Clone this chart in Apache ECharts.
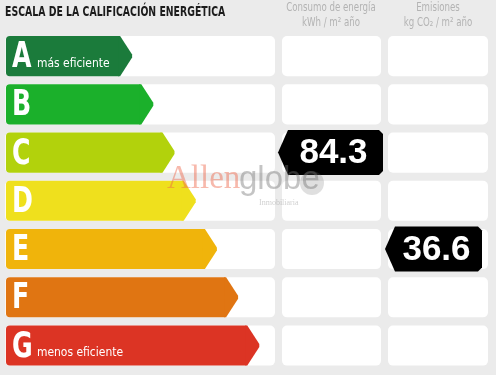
<!DOCTYPE html>
<html><head><meta charset="utf-8">
<script src="https://cdn.jsdelivr.net/npm/echarts@6/dist/echarts.min.js"></script>
<style>html,body{margin:0;padding:0;background:#ebebeb}#c{width:496px;height:375px}</style>
</head><body><div id="c"></div>
<script>
// ---- data ----
const classes = ['A', 'B', 'C', 'D', 'E', 'F', 'G'];
const classLength = [1, 2, 3, 4, 5, 6, 7];
const classColors = ['#1b7b3b', '#1bb02b', '#b2d20c', '#efe01d', '#f0b40b', '#e07512', '#dc3424'];
const classNotes = ['más eficiente', '', '', '', '', '', 'menos eficiente'];
const consumptionClass = ['C'];
const consumptionValue = [84.3];
const emissionsClass = ['E'];
const emissionsValue = [36.6];
const headerTitle = 'ESCALA DE LA CALIFICACIÓN ENERGÉTICA';
const consumptionHeader = ['Consumo de energía', 'kWh / m² año'];
const emissionsHeader = ['Emisiones', 'kg CO₂ / m² año'];

// ---- layout ----
const NARROW = '"Liberation Sans Narrow", "DejaVu Sans Condensed", sans-serif';
const BAR_ORIGIN = -5;
const col1 = [5, 275], col2 = [282, 381], col3 = [388, 488];
const badge2 = [278, 383], badge3 = [385, 482];

const chart = echarts.init(document.getElementById('c'), null, {renderer: 'canvas'});

function renderCells(params, api) {
  const cy = api.coord([0, api.value(1)])[1];
  const h = api.size([0, 1])[1] * 0.83;
  const mk = c => ({type: 'rect', shape: {x: c[0], y: cy - h / 2, width: c[1] - c[0], height: h, r: 5},
    style: {fill: '#ffffff'}});
  return {type: 'group', children: [mk(col1), mk(col2), mk(col3)]};
}

function renderBars(params, api) {
  const idx = params.dataIndex;
  const p0 = api.coord([BAR_ORIGIN, api.value(1)]);
  const p1 = api.coord([api.value(0), api.value(1)]);
  const h = api.size([0, 1])[1] * 0.83;
  const top = p0[1] - h / 2, bot = p0[1] + h / 2, cy = p0[1];
  const tip = p1[0], bodyEnd = tip - 15;
  const fill = classColors[idx];
  const children = [
    {type: 'rect', shape: {x: p0[0], y: top, width: bodyEnd - p0[0] + 1, height: h, r: [4, 0, 0, 4]}, style: {fill}},
    {type: 'polygon', shape: {points: [[bodyEnd, top], [bodyEnd + 2, top], [tip - 1, cy - 1.5], [tip - 1, cy + 1.5], [bodyEnd + 2, bot], [bodyEnd, bot]]}, style: {fill}},
    {type: 'text', x: p0[0] + 6, y: cy + 2, scaleX: 0.8,
      style: {text: classes[idx], fill: '#fff', fontSize: 35, fontWeight: 'bold', fontFamily: NARROW, align: 'left', verticalAlign: 'middle'}}
  ];
  if (classNotes[idx]) {
    children.push({type: 'text', x: p0[0] + 31, y: cy + 14, scaleX: 0.92,
      style: {text: classNotes[idx], fill: '#fff', fontSize: 13, fontFamily: NARROW, align: 'left', verticalAlign: 'bottom'}});
  }
  return {type: 'group', children};
}

function badgeRenderer(range) {
  return function (params, api) {
    const cy = api.coord([0, api.value(1)])[1];
    const hh = 22.5;
    const x0 = range[0], x1 = range[1];
    const top = cy - hh, bot = cy + hh;
    return {type: 'group', children: [
      {type: 'polygon', shape: {points: [[x0, cy], [x0 + 10, top], [x1 - 4, top], [x1, top + 4], [x1, bot - 4], [x1 - 4, bot], [x0 + 10, bot]]},
        style: {fill: '#000'}},
      {type: 'text', x: (x0 + x1) / 2 + 3, y: cy + 1,
        style: {text: api.value(0).toFixed(1), fill: '#fff', fontSize: 35, fontWeight: 'bold',
          fontFamily: '"Liberation Sans", Arial, sans-serif', align: 'center', verticalAlign: 'middle'}}
    ]};
  };
}

const hdr = (txt, x, y) => ({type: 'text', x, y, scaleX: 0.8,
  style: {text: txt, fill: '#b3b3b3', fontSize: 12, fontFamily: NARROW, align: 'center', verticalAlign: 'middle'}});

const option = {
  backgroundColor: '#ebebeb',
  animation: false,
  grid: {left: 0, right: 0, top: 32, height: 337.7},
  xAxis: {type: 'value', min: -5.28, max: 18.12, show: false},
  yAxis: {type: 'category', data: classes, inverse: true, show: false},
  graphic: [
    {type: 'text', x: 5, y: 12, scaleX: 0.77, style: {text: headerTitle, fill: '#1c1c1c', fontSize: 13.5, fontWeight: 'bold', fontFamily: NARROW, verticalAlign: 'middle'}},
    hdr(consumptionHeader[0], 331, 8),
    hdr(consumptionHeader[1], 331, 23),
    hdr(emissionsHeader[0], 438, 8),
    hdr(emissionsHeader[1], 438, 23),
    // watermark
    {type: 'circle', z: 100, shape: {cx: 312, cy: 183, r: 12}, style: {fill: 'rgba(110,110,110,0.22)'}},
    {type: 'text', z: 101, x: 167, y: 196, style: {text: 'Allen', fill: 'rgba(238,100,72,0.45)', fontSize: 33, fontFamily: '"Liberation Serif", serif', verticalAlign: 'bottom'}},
    {type: 'text', z: 101, x: 239, y: 196, style: {text: 'globe', fill: 'rgba(115,115,115,0.42)', fontSize: 33, fontFamily: '"Liberation Sans", sans-serif', verticalAlign: 'bottom'}},
    {type: 'text', z: 101, x: 259, y: 203, style: {text: 'Inmobiliaria', fill: 'rgba(150,150,150,0.45)', fontSize: 8, fontFamily: '"Liberation Serif", serif', verticalAlign: 'middle'}}
  ],
  series: [
    {type: 'custom', renderItem: renderCells, encode: {x: 0, y: 1}, z: 1,
      data: classes.map((c, i) => [classLength[i], c])},
    {type: 'custom', renderItem: renderBars, encode: {x: 0, y: 1}, z: 2,
      data: classes.map((c, i) => [classLength[i], c])},
    {type: 'custom', renderItem: badgeRenderer(badge2), encode: {y: 1}, z: 3,
      data: consumptionValue.map((v, i) => [v, consumptionClass[i]])},
    {type: 'custom', renderItem: badgeRenderer(badge3), encode: {y: 1}, z: 3,
      data: emissionsValue.map((v, i) => [v, emissionsClass[i]])}
  ]
};
chart.setOption(option);
</script></body></html>
